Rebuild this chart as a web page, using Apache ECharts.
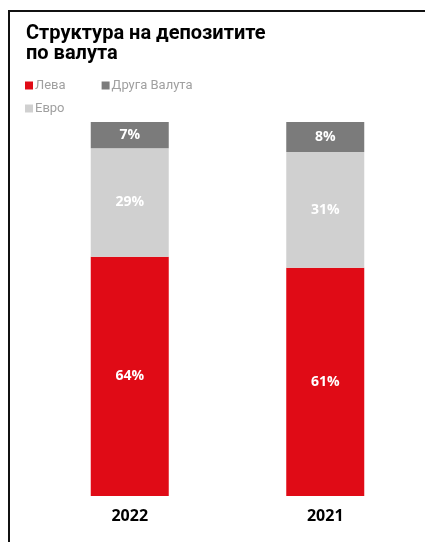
<!DOCTYPE html>
<html>
<head>
<meta charset="utf-8">
<script src="https://cdn.jsdelivr.net/npm/echarts@6/dist/echarts.min.js"></script>
<style>
    html, body {margin: 0; padding: 0; background: #fff;}
    #deposit_chart {width: 425px; height: 542px;}
</style>
</head>
<body>
<div id="deposit_chart"></div>
<script>
var years = ['2022', '2021'];
var levaData = [64, 61];
var evroData = [29, 31];
var drugaData = [7, 8];

function initDepositChart() {
    var myChart = echarts.init(document.getElementById('deposit_chart'));
    var labelStyle = {show: true, position: 'inside', color: '#fff', fontSize: 14, fontWeight: 'bold', fontFamily: 'Open Sans', formatter: '{c}%'};
    var option = {
        backgroundColor: '#fff',
        title: {
            text: 'Структура на депозитите\nпо валута', left: 21, top: 19,
            textStyle: {color: '#000', fontSize: 20, fontWeight: 'bold', fontFamily: 'Roboto', lineHeight: 20}
        },
        graphic: [
            {type: 'line', shape: {x1: 8, y1: 11, x2: 425, y2: 11}, style: {stroke: '#111', lineWidth: 2}},
            {type: 'line', shape: {x1: 9, y1: 11, x2: 9, y2: 542}, style: {stroke: '#111', lineWidth: 2}}
        ],
        legend: [
            {
                data: ['Лева', 'Друга Валута'], left: 20, top: 74, itemWidth: 8, itemHeight: 8, itemGap: 36,
                icon: 'rect', textStyle: {color: '#a0a0a0', fontSize: 13, fontFamily: 'Roboto', padding: [0, 0, 0, -3]}
            },
            {
                data: ['Евро'], left: 20, top: 97, itemWidth: 8, itemHeight: 8,
                icon: 'rect', textStyle: {color: '#a0a0a0', fontSize: 13, fontFamily: 'Roboto', padding: [0, 0, 0, -3]}
            }
        ],
        grid: {left: 32, right: 2, top: 122, bottom: 46},
        xAxis: {
            type: 'category', data: years,
            axisTick: {show: false}, axisLine: {show: false},
            axisLabel: {color: '#000', fontSize: 16, fontWeight: 'bold', fontFamily: 'Open Sans', margin: 12}
        },
        yAxis: {type: 'value', min: 0, max: 100, show: false},
        series: [
            {
                name: 'Лева', type: 'bar', stack: 'total', barWidth: 78,
                itemStyle: {color: '#e00b16'}, label: labelStyle, data: levaData
            },
            {
                name: 'Евро', type: 'bar', stack: 'total', barWidth: 78,
                itemStyle: {color: '#d0d0d0'}, label: labelStyle, data: evroData
            },
            {
                name: 'Друга Валута', type: 'bar', stack: 'total', barWidth: 78,
                itemStyle: {color: '#7b7b7b'}, label: labelStyle, data: drugaData
            }
        ]
    };
    myChart.setOption(option);
}
initDepositChart();
</script>
</body>
</html>
